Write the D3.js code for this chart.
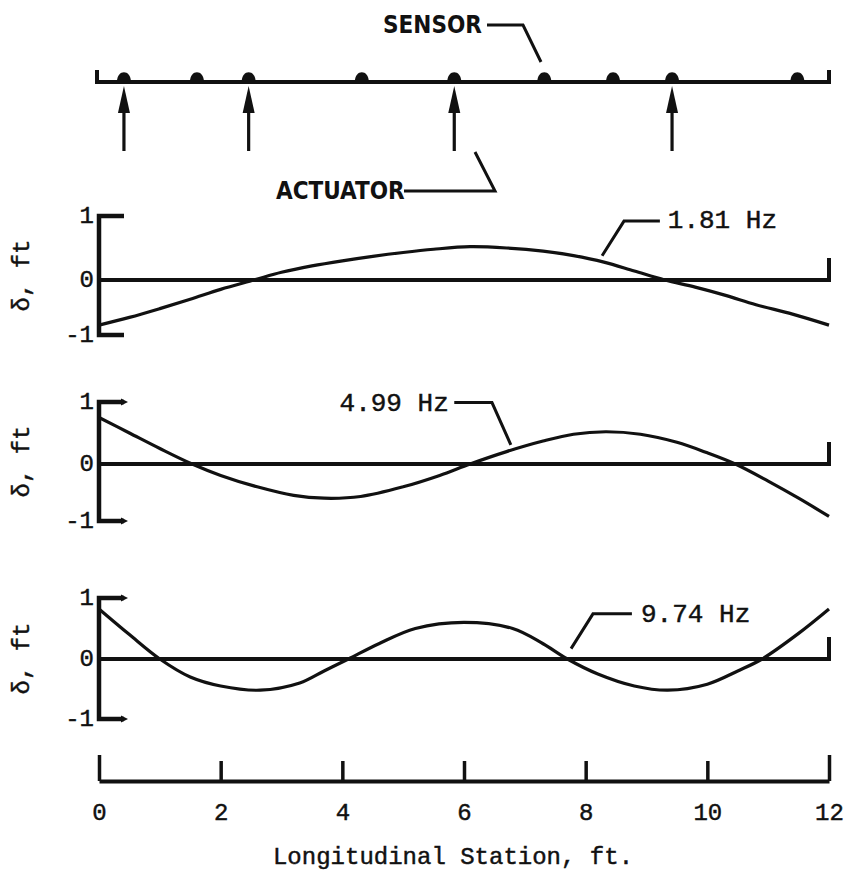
<!DOCTYPE html>
<html>
<head>
<meta charset="utf-8">
<script src="https://cdn.jsdelivr.net/npm/d3@7/dist/d3.min.js"></script>
<style>
  body { margin: 0; background: #fff; }
  svg { display: block; }
  .mono { font-family: "Liberation Mono", "DejaVu Sans Mono", monospace; fill: #111; stroke: #111; stroke-width: 0.45px; }
  .cond { font-family: "Liberation Sans Narrow", "DejaVu Sans Condensed", "DejaVu Sans", sans-serif; font-weight: bold; fill: #111; }
</style>
</head>
<body>
<svg id="chart" width="847" height="874"></svg>
<script>
// ---------------- DATA ----------------
const xTicks = [0, 2, 4, 6, 8, 10, 12];
const yTicks = [-1, 0, 1];
const sensorX = [0.41, 1.61, 2.46, 4.32, 5.84, 7.32, 8.45, 9.42, 11.48];
const actuatorX = [0.41, 2.46, 5.84, 9.42];

const mode1X = [0, 0.5, 1.0, 1.5, 2.0, 2.55, 3.0, 3.5, 4.0, 4.5, 5.0, 5.5, 6.1, 6.7, 7.3, 7.8, 8.3, 8.8, 9.3, 9.8, 10.3, 10.8, 11.4, 12];
const mode1Y = [-0.82, -0.68, -0.52, -0.35, -0.17, 0, 0.12, 0.22, 0.30, 0.37, 0.43, 0.48, 0.52, 0.50, 0.45, 0.38, 0.28, 0.14, 0, -0.13, -0.28, -0.45, -0.62, -0.82];

const mode2X = [0, 0.5, 1.0, 1.53, 2.0, 2.6, 3.2, 3.7, 4.3, 5.0, 5.6, 6.1, 6.7, 7.3, 7.8, 8.33, 8.9, 9.5, 10.0, 10.46, 11.0, 11.5, 12];
const mode2Y = [0.75, 0.5, 0.25, 0, -0.2, -0.4, -0.55, -0.6, -0.57, -0.4, -0.2, 0, 0.2, 0.37, 0.48, 0.52, 0.48, 0.35, 0.18, 0, -0.3, -0.6, -0.92];

const mode3X = [0, 0.5, 1.0, 1.5, 2.0, 2.65, 3.3, 3.7, 4.1, 4.6, 5.2, 6.0, 6.8, 7.3, 7.7, 8.2, 8.8, 9.35, 10.0, 10.5, 10.9, 11.5, 12];
const mode3Y = [0.82, 0.4, 0, -0.3, -0.45, -0.52, -0.4, -0.2, 0, 0.25, 0.5, 0.6, 0.5, 0.25, 0, -0.25, -0.45, -0.52, -0.42, -0.2, 0, 0.42, 0.82];

const modeLabels = ["1.81 Hz", "4.99 Hz", "9.74 Hz"];
const xTitle = "Longitudinal Station, ft.";
const yTitle = "δ, ft";
const sensorLabel = "SENSOR";
const actuatorLabel = "ACTUATOR";

// ---------------- LAYOUT ----------------
const svg = d3.select("#chart");
const x = d3.scaleLinear().domain([0, 12]).range([99, 829]);
const ink = "#111";

const panels = [
  { xs: mode1X, ys: mode1Y, label: modeLabels[0], range: [335, 280, 216], arrowEnds: false,
    textPos: [9.35, 0.92], anchor: "start", leader: [[9.22, 0.92], [8.63, 0.92], [8.27, 0.38]] },
  { xs: mode2X, ys: mode2Y, label: modeLabels[1], range: [521, 464, 402], arrowEnds: true,
    textPos: [5.75, 0.97], anchor: "end", leader: [[5.84, 0.99], [6.46, 0.99], [6.77, 0.31]] },
  { xs: mode3X, ys: mode3Y, label: modeLabels[2], range: [719, 659, 598], arrowEnds: true,
    textPos: [8.91, 0.72], anchor: "start", leader: [[8.76, 0.74], [8.12, 0.74], [7.76, 0.17]] }
];

const line = d3.line().curve(d3.curveCatmullRom.alpha(0.5));

// ---------------- BEAM SCHEMATIC ----------------
const beamY = 82;
const beam = svg.append("g");
beam.append("path")
  .attr("d", `M${x(0) - 2},${beamY - 12} L${x(0) - 2},${beamY} L${x(12)},${beamY} L${x(12)},${beamY - 12}`)
  .attr("fill", "none").attr("stroke", ink).attr("stroke-width", 4);

beam.selectAll(".sensor").data(sensorX).join("path")
  .attr("d", d => { const cx = x(d), r = 7; return `M${cx - r},${beamY} C${cx - r},${beamY - 13} ${cx + r},${beamY - 13} ${cx + r},${beamY} Z`; })
  .attr("fill", ink);

beam.selectAll(".act").data(actuatorX).join("g").each(function(d) {
  const g = d3.select(this), cx = x(d);
  g.append("line").attr("x1", cx).attr("x2", cx).attr("y1", 151).attr("y2", 104)
    .attr("stroke", ink).attr("stroke-width", 3.2);
  g.append("path").attr("d", `M${cx - 6},${113} L${cx},${86} L${cx + 6},${113} Z`).attr("fill", ink);
});

svg.append("text").attr("class", "cond").attr("x", 383).attr("y", 25)
  .attr("dominant-baseline", "central").attr("font-size", 24).text(sensorLabel);
svg.append("path").attr("d", "M487,25 L523,25 L541,62").attr("fill", "none").attr("stroke", ink).attr("stroke-width", 3);

svg.append("text").attr("class", "cond").attr("x", 276).attr("y", 191)
  .attr("dominant-baseline", "central").attr("font-size", 24).text(actuatorLabel);
svg.append("path").attr("d", "M404,191 L495,191 L475,152").attr("fill", "none").attr("stroke", ink).attr("stroke-width", 3);

// ---------------- MODE PANELS ----------------
panels.forEach(p => {
  const y = d3.scaleLinear().domain([-1, 0, 1]).range(p.range);
  const g = svg.append("g");

  // y bracket axis
  g.append("path")
    .attr("d", `M${x(0) + 25},${y(1)} L${x(0)},${y(1)} L${x(0)},${y(-1)} L${x(0) + 25},${y(-1)}`)
    .attr("fill", "none").attr("stroke", ink).attr("stroke-width", 4.5);
  if (p.arrowEnds) {
    [1, -1].forEach(v => {
      const ty = y(v), tx = x(0) + 25;
      g.append("path").attr("d", `M${tx - 3},${ty - 3.5} L${tx + 4},${ty} L${tx - 3},${ty + 3.5} Z`).attr("fill", ink);
    });
  }

  // zero line with right end tick
  g.append("path")
    .attr("d", `M${x(0)},${y(0)} L${x(12)},${y(0)} L${x(12)},${y(0) - 22}`)
    .attr("fill", "none").attr("stroke", ink).attr("stroke-width", 4);

  // tick labels
  g.selectAll(".yt").data(yTicks).join("text")
    .attr("class", "mono").attr("x", x(0) - 5).attr("y", d => y(d))
    .attr("text-anchor", "end").attr("dominant-baseline", "central")
    .attr("font-size", 24).text(d => d === -1 ? "-1" : String(d));

  // y title
  const cy = (y(1) + y(-1)) / 2;
  g.append("text").attr("class", "mono")
    .attr("transform", `translate(22,${cy}) rotate(-90)`)
    .attr("text-anchor", "middle").attr("dominant-baseline", "central")
    .attr("font-size", 24).text(yTitle);

  // mode shape curve
  g.append("path")
    .attr("d", line(p.xs.map((v, i) => [x(v), y(p.ys[i])])))
    .attr("fill", "none").attr("stroke", ink).attr("stroke-width", 3.2);

  // label + leader
  g.append("path")
    .attr("d", d3.line()(p.leader.map(q => [x(q[0]), y(q[1])])))
    .attr("fill", "none").attr("stroke", ink).attr("stroke-width", 3);
  g.append("text").attr("class", "mono")
    .attr("x", x(p.textPos[0])).attr("y", y(p.textPos[1]))
    .attr("text-anchor", p.anchor).attr("dominant-baseline", "central")
    .attr("font-size", 26).text(p.label);
});

// ---------------- BOTTOM AXIS ----------------
const axisY = 781;
const xAxis = d3.axisBottom(x).tickValues(xTicks).tickSizeInner(-20).tickSizeOuter(0).tickPadding(22)
  .tickFormat(d3.format("d"));
const ax = svg.append("g").attr("transform", `translate(0,${axisY})`).call(xAxis);
ax.select(".domain").attr("stroke", ink).attr("stroke-width", 4);
ax.selectAll(".tick line").attr("stroke", ink).attr("stroke-width", 3.5)
  .attr("y2", d => (d === 0 || d === 12) ? -26 : -20);
ax.selectAll(".tick text").attr("class", "mono").attr("font-size", 24).attr("fill", ink)
  .style("font-family", "'Liberation Mono', monospace");

svg.append("text").attr("class", "mono").attr("x", 453).attr("y", 857)
  .attr("text-anchor", "middle").attr("dominant-baseline", "central")
  .attr("font-size", 24).text(xTitle);
</script>
</body>
</html>
